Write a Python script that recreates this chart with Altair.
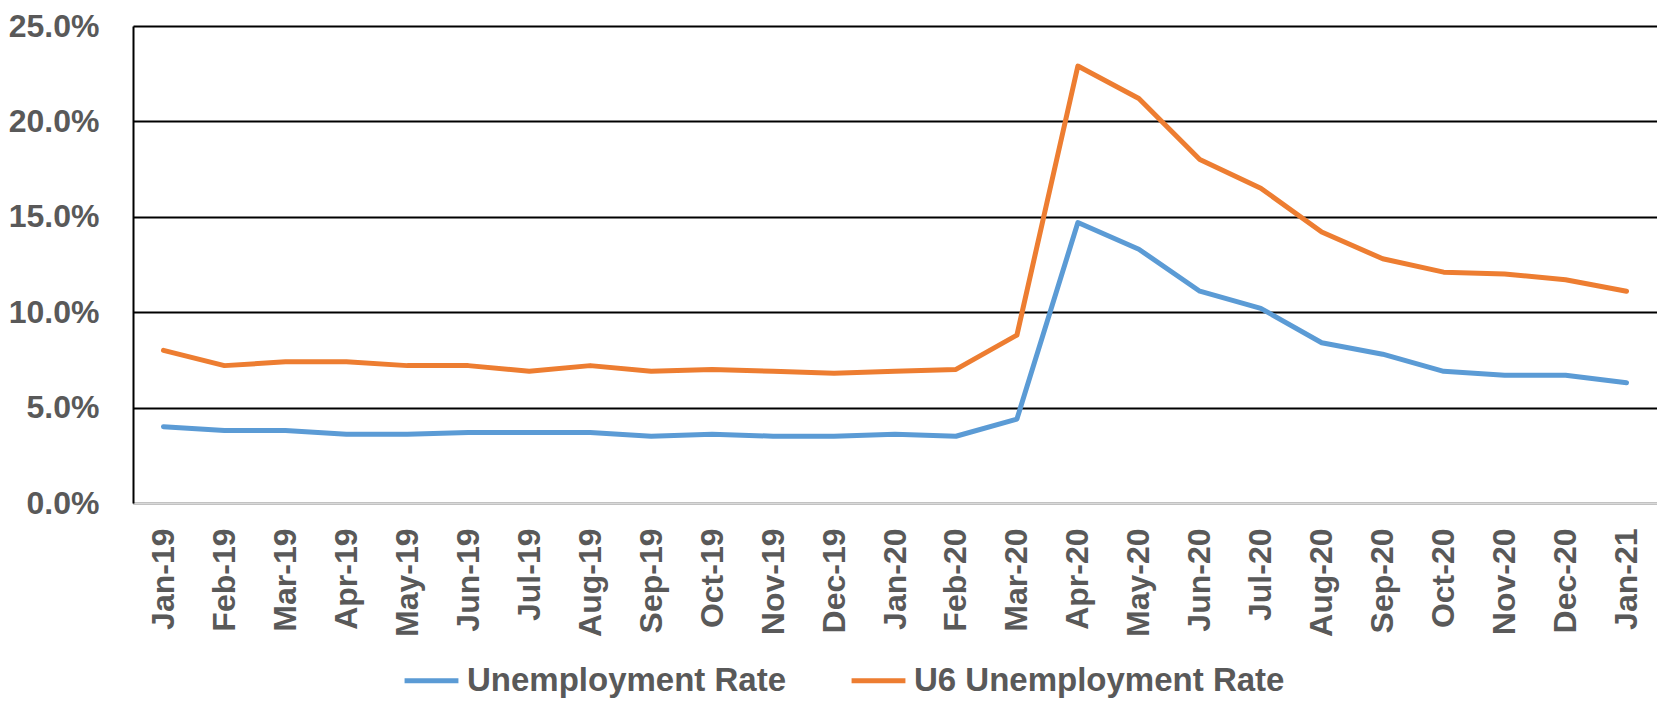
import altair as alt
import pandas as pd

months = ["Jan-19", "Feb-19", "Mar-19", "Apr-19", "May-19", "Jun-19", "Jul-19",
          "Aug-19", "Sep-19", "Oct-19", "Nov-19", "Dec-19", "Jan-20", "Feb-20",
          "Mar-20", "Apr-20", "May-20", "Jun-20", "Jul-20", "Aug-20", "Sep-20",
          "Oct-20", "Nov-20", "Dec-20", "Jan-21"]

unemployment = [4.0, 3.8, 3.8, 3.6, 3.6, 3.7, 3.7, 3.7, 3.5, 3.6, 3.5, 3.5, 3.6,
                3.5, 4.4, 14.7, 13.3, 11.1, 10.2, 8.4, 7.8, 6.9, 6.7, 6.7, 6.3]

u6 = [8.0, 7.2, 7.4, 7.4, 7.2, 7.2, 6.9, 7.2, 6.9, 7.0, 6.9, 6.8, 6.9,
      7.0, 8.8, 22.9, 21.2, 18.0, 16.5, 14.2, 12.8, 12.1, 12.0, 11.7, 11.1]

series_names = ["Unemployment Rate", "U6 Unemployment Rate"]
series_colors = ["#5B9BD5", "#ED7D31"]

rows = []
for i, m in enumerate(months):
    rows.append({"month": m, "series": series_names[0], "value": unemployment[i] / 100})
    rows.append({"month": m, "series": series_names[1], "value": u6[i] / 100})
df = pd.DataFrame(rows)

FONT = "Liberation Sans"
GREY = "#595959"

chart = alt.Chart(df).mark_line(
    strokeWidth=5, strokeCap="round", strokeJoin="round"
).encode(
    x=alt.X("month:N", sort=months, title=None,
            axis=alt.Axis(labelAngle=270, labelFont=FONT, labelFontSize=32,
                          labelFontWeight="bold", labelColor=GREY,
                          labelPadding=25, ticks=False, grid=False,
                          domainColor="#D9D9D9", domainWidth=2.5)),
    y=alt.Y("value:Q", title=None,
            scale=alt.Scale(domain=[0, 0.25], nice=False),
            axis=alt.Axis(format=".1%", values=[0, 0.05, 0.10, 0.15, 0.20, 0.25],
                          labelFont=FONT, labelFontSize=32, labelFontWeight="bold",
                          labelColor=GREY, labelPadding=34, ticks=False,
                          grid=True, gridColor="#000000", gridWidth=2,
                          domainColor="#000000", domainWidth=2)),
    color=alt.Color("series:N", sort=series_names,
                    scale=alt.Scale(domain=series_names, range=series_colors),
                    legend=alt.Legend(title=None, orient="none", direction="horizontal",
                                      legendX=269, legendY=625,
                                      symbolType="stroke", symbolSize=2900,
                                      symbolStrokeWidth=5, labelFont=FONT,
                                      labelFontSize=33, labelFontWeight="bold",
                                      labelColor=GREY, labelOffset=6,
                                      columnPadding=54, labelLimit=500)),
).properties(
    width=1524,
    height=477,
    autosize=alt.AutoSizeParams(type="none"),
    padding={"left": 125, "top": 18, "right": 0, "bottom": 199},
).configure_view(
    stroke="#000000", strokeWidth=2
).configure(background="white")

chart.save("out.html", embed_options={"renderer": "svg", "actions": False})
